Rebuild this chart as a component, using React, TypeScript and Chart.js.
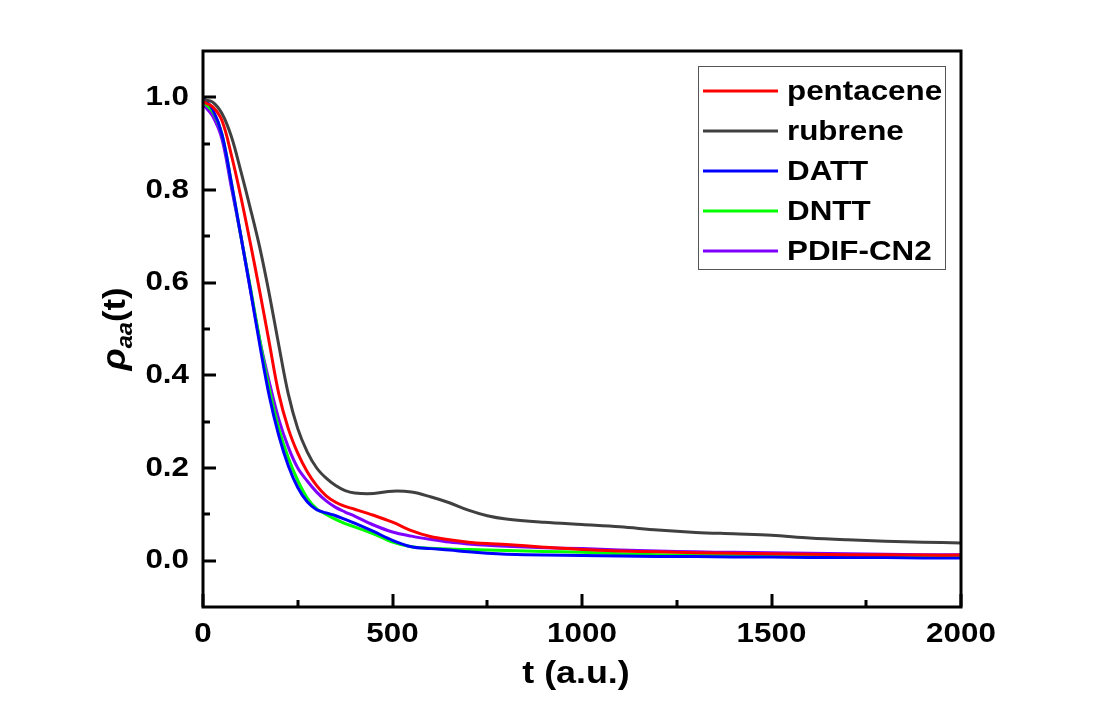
import { useEffect, useRef } from "react";
import { Chart, registerables } from "chart.js";

Chart.register(...registerables);

// ---- data ----
const T = [0, 25, 50, 75, 100, 125, 150, 175, 200, 225, 250, 275, 300, 325, 350, 375, 400,
  450, 500, 550, 600, 650, 700, 750, 800,
  900, 1000, 1100, 1200, 1300, 1400, 1500, 1600, 1700, 1800, 1900, 2000];

const PENTACENE = [0.99, 0.98, 0.95, 0.875, 0.785, 0.685, 0.58, 0.47, 0.36, 0.285, 0.232, 0.192, 0.162, 0.14, 0.126, 0.117, 0.111,
  0.098, 0.083, 0.065, 0.052, 0.045, 0.04, 0.037, 0.035,
  0.029, 0.024, 0.021, 0.019, 0.017, 0.016, 0.015, 0.014, 0.013, 0.013, 0.012, 0.012];

const RUBRENE = [0.995, 0.99, 0.965, 0.915, 0.84, 0.76, 0.675, 0.575, 0.465, 0.36, 0.285, 0.235, 0.2, 0.178, 0.162, 0.151, 0.146,
  0.145, 0.15, 0.148, 0.138, 0.125, 0.109, 0.097, 0.09,
  0.083, 0.078, 0.073, 0.066, 0.061, 0.058, 0.055, 0.049, 0.045, 0.042, 0.04, 0.038];

const DATT = [1.0, 0.975, 0.92, 0.815, 0.7, 0.585, 0.465, 0.355, 0.27, 0.205, 0.158, 0.127, 0.11, 0.103, 0.097, 0.089, 0.081,
  0.063, 0.044, 0.03, 0.026, 0.023, 0.019, 0.016, 0.014,
  0.012, 0.011, 0.01, 0.009, 0.009, 0.008, 0.008, 0.007, 0.007, 0.007, 0.006, 0.006];

const DNTT = [0.99, 0.97, 0.92, 0.815, 0.7, 0.59, 0.475, 0.37, 0.285, 0.222, 0.173, 0.135, 0.112, 0.1, 0.089, 0.08, 0.073,
  0.058, 0.04, 0.03, 0.027, 0.025, 0.024, 0.023, 0.022,
  0.02, 0.018, 0.015, 0.013, 0.012, 0.011, 0.01, 0.009, 0.009, 0.008, 0.008, 0.008];

const PDIF_CN2 = [0.985, 0.96, 0.91, 0.805, 0.7, 0.585, 0.475, 0.385, 0.305, 0.245, 0.2, 0.172, 0.148, 0.129, 0.115, 0.105, 0.096,
  0.077, 0.062, 0.053, 0.046, 0.04, 0.036, 0.033, 0.031,
  0.028, 0.026, 0.023, 0.021, 0.019, 0.018, 0.017, 0.016, 0.015, 0.014, 0.013, 0.013];

const SERIES_NAMES = ["pentacene", "rubrene", "DATT", "DNTT", "PDIF-CN2"];
const SERIES_VALUES = [PENTACENE, RUBRENE, DATT, DNTT, PDIF_CN2];
const SERIES_COLORS = ["#ff0000", "#404040", "#0000ff", "#00ff00", "#8000ff"];

const X_MAJOR_TICKS = [0, 500, 1000, 1500, 2000];
const X_MINOR_TICKS = [250, 750, 1250, 1750];
const Y_MAJOR_TICKS = [0, 0.2, 0.4, 0.6, 0.8, 1.0];
const Y_MINOR_TICKS = [0.1, 0.3, 0.5, 0.7, 0.9];
const X_TITLE = "t (a.u.)";

const FONT = '"Liberation Sans", Arial, sans-serif';
const STRETCH = 1.12;

function stretchedText(ctx: CanvasRenderingContext2D, text: string, x: number, y: number, font: string, align: CanvasTextAlign, baseline: CanvasTextBaseline) {
  ctx.save();
  ctx.font = font;
  ctx.textAlign = align;
  ctx.textBaseline = baseline;
  ctx.translate(x, y);
  ctx.scale(STRETCH, 1);
  ctx.fillText(text, 0, 0);
  ctx.restore();
}

const decorPlugin = {
  id: "decor",
  beforeDraw(chart: any) {
    const ctx = chart.ctx;
    ctx.save();
    ctx.fillStyle = "#ffffff";
    ctx.fillRect(0, 0, chart.width, chart.height);
    ctx.restore();
  },
  afterDatasetsDraw(chart: any) {
    const ctx: CanvasRenderingContext2D = chart.ctx;
    const { left, right, top, bottom } = chart.chartArea;
    const xs = chart.scales.x;
    const ys = chart.scales.y;
    ctx.save();
    ctx.strokeStyle = "#000";
    ctx.fillStyle = "#000";
    ctx.lineWidth = 3;
    ctx.lineCap = "butt";
    // ticks (inward)
    ctx.beginPath();
    for (const v of X_MAJOR_TICKS) {
      const px = Math.round(xs.getPixelForValue(v));
      ctx.moveTo(px, bottom);
      ctx.lineTo(px, bottom - 13);
    }
    for (const v of X_MINOR_TICKS) {
      const px = Math.round(xs.getPixelForValue(v));
      ctx.moveTo(px, bottom);
      ctx.lineTo(px, bottom - 7);
    }
    for (const v of Y_MAJOR_TICKS) {
      const py = Math.round(ys.getPixelForValue(v));
      ctx.moveTo(left, py);
      ctx.lineTo(left + 13, py);
    }
    for (const v of Y_MINOR_TICKS) {
      const py = Math.round(ys.getPixelForValue(v));
      ctx.moveTo(left, py);
      ctx.lineTo(left + 7, py);
    }
    ctx.stroke();
    // frame
    ctx.strokeRect(left, top, right - left, bottom - top);

    // tick labels
    const tickFont = `bold 28px ${FONT}`;
    for (const v of X_MAJOR_TICKS) {
      stretchedText(ctx, String(v), xs.getPixelForValue(v), bottom + 27, tickFont, "center", "middle");
    }
    for (const v of Y_MAJOR_TICKS) {
      stretchedText(ctx, v.toFixed(1), left - 14, ys.getPixelForValue(v), tickFont, "right", "middle");
    }

    // x title
    stretchedText(ctx, X_TITLE, 576, 683, `bold 32px ${FONT}`, "center", "alphabetic");

    // y title: rho_aa(t)
    ctx.save();
    ctx.translate(114, 329);
    ctx.rotate(-Math.PI / 2);
    ctx.scale(1.08, 1);
    const parts = [
      { t: "ρ", f: `italic bold 34px ${FONT}`, dy: 0 },
      { t: "aa", f: `italic bold 22px ${FONT}`, dy: 7 },
      { t: "(t)", f: `bold 32px ${FONT}`, dy: 0 },
    ];
    let total = 0;
    const widths: number[] = [];
    for (const p of parts) {
      ctx.font = p.f;
      const w = ctx.measureText(p.t).width;
      widths.push(w);
      total += w;
    }
    let cx = -total / 2;
    ctx.textAlign = "left";
    ctx.textBaseline = "alphabetic";
    parts.forEach((p, i) => {
      ctx.font = p.f;
      ctx.fillText(p.t, cx, 11 + p.dy);
      cx += widths[i];
    });
    ctx.restore();

    // legend
    const lx = 698, ly = 66, lw = 247, lh = 203;
    ctx.fillStyle = "#ffffff";
    ctx.fillRect(lx, ly, lw, lh);
    ctx.strokeStyle = "#555555";
    ctx.lineWidth = 1;
    ctx.strokeRect(lx + 0.5, ly + 0.5, lw, lh);
    SERIES_NAMES.forEach((name, i) => {
      const y = 91 + i * 40;
      ctx.strokeStyle = SERIES_COLORS[i];
      ctx.lineWidth = 3;
      ctx.beginPath();
      ctx.moveTo(703, y);
      ctx.lineTo(778, y);
      ctx.stroke();
      ctx.fillStyle = "#000";
      stretchedText(ctx, name, 787, y + 1, `bold 28px ${FONT}`, "left", "middle");
    });
    ctx.restore();
  },
};

export default function App() {
  const ref = useRef<HTMLCanvasElement | null>(null);
  useEffect(() => {
    document.body.style.margin = "0";
    const canvas = ref.current;
    if (!canvas) return;
    const datasets = SERIES_NAMES.map((name, i) => ({
      label: name,
      data: T.map((t, j) => ({ x: t, y: SERIES_VALUES[i][j] })),
      borderColor: SERIES_COLORS[i],
      backgroundColor: SERIES_COLORS[i],
      borderWidth: 3,
      pointRadius: 0,
      fill: false,
      tension: 0.35,
    }));
    const chart = new Chart(canvas, {
      type: "line",
      data: { datasets },
      options: {
        animation: false,
        responsive: false,
        maintainAspectRatio: false,
        devicePixelRatio: 1,
        layout: { padding: { top: 51, right: 139, left: 0, bottom: 0 } },
        plugins: { legend: { display: false }, tooltip: { enabled: false } },
        scales: {
          x: {
            type: "linear",
            min: 0,
            max: 2000,
            grid: { display: false, drawTicks: false },
            border: { display: false },
            ticks: { display: false, stepSize: 500 },
            afterFit: (s: any) => { s.height = 117; },
          },
          y: {
            type: "linear",
            min: -0.1,
            max: 1.1,
            grid: { display: false, drawTicks: false },
            border: { display: false },
            ticks: { display: false, stepSize: 0.2 },
            afterFit: (s: any) => { s.width = 203; },
          },
        },
      },
      plugins: [decorPlugin],
    });
    return () => chart.destroy();
  }, []);
  return (
    <canvas ref={ref} width={1100} height={724} style={{ display: "block", width: 1100, height: 724 }} />
  );
}
